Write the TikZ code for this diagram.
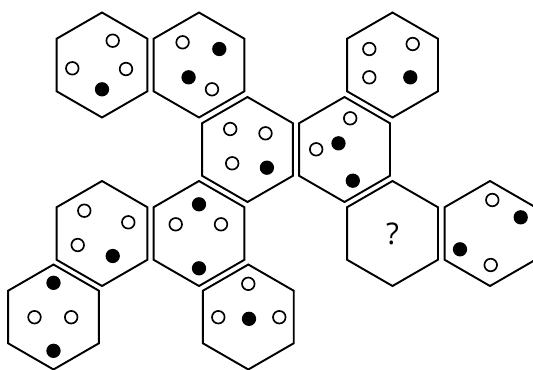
\documentclass[tikz,border=0pt]{standalone}
\usepackage{fontspec}
\setsansfont{Open Sans}
\usepackage{tikz}
\usetikzlibrary{shapes,positioning}

\tikzset{
  hexa/.style={draw, regular polygon, regular polygon sides=6, shape border rotate=30,
    minimum size=2.1cm, inner sep=0pt, line width=1.1pt},
  wdot/.style={draw, circle, fill=white, minimum size=0.252cm, inner sep=0pt, line width=0.95pt},
  bdot/.style={wdot, fill=black}
}

\begin{document}
\begin{tikzpicture}[x=0.02cm, y=-0.02cm]
  \useasboundingbox (0,0) rectangle (533,369);

  % hexagons
  \node[hexa] (topleft) at (102,65) {};
  \node[hexa] (topmid) at (199,65) {};
  \node[hexa] (topright) at (392.5,65) {};
  \node[hexa] (center) at (247.5,149.5) {};
  \node[hexa] (centerright) at (344.5,149.5) {};
  \node[hexa] (lowleft) at (102,233.5) {};
  \node[hexa] (lowmid) at (199,233.5) {};
  \node[hexa, font=\sffamily\fontsize{17}{19}\selectfont] (question) at (392.5,233.5) {?};
  \node[hexa] (lowright) at (490,233.5) {};
  \node[hexa] (bottomleft) at (53.5,317) {};
  \node[hexa] (bottommid) at (248.3,317) {};

  % dots
  \node[wdot] (topleft-a) at ([shift={(10.7,-24.3)}]topleft.center) {};
  \node[wdot] (topleft-b) at ([shift={(-29.7,3.3)}]topleft.center) {};
  \node[wdot] (topleft-c) at ([shift={(24,4)}]topleft.center) {};
  \node[bdot] (topleft-d) at ([shift={(0,24.3)}]topleft.center) {};

  \node[wdot] (topmid-a) at ([shift={(-16.4,-22.7)}]topmid.center) {};
  \node[bdot] (topmid-b) at ([shift={(20.3,-16)}]topmid.center) {};
  \node[bdot] (topmid-c) at ([shift={(-10.4,12.3)}]topmid.center) {};
  \node[wdot] (topmid-d) at ([shift={(13,24.3)}]topmid.center) {};

  \node[wdot] (topright-a) at ([shift={(-23.2,-16)}]topright.center) {};
  \node[wdot] (topright-b) at ([shift={(20.2,-21)}]topright.center) {};
  \node[wdot] (topright-c) at ([shift={(-23.2,12.3)}]topright.center) {};
  \node[bdot] (topright-d) at ([shift={(17.8,12.3)}]topright.center) {};

  \node[wdot] (center-a) at ([shift={(-17.3,-20.5)}]center.center) {};
  \node[wdot] (center-b) at ([shift={(18,-16.2)}]center.center) {};
  \node[wdot] (center-c) at ([shift={(-15.3,13.8)}]center.center) {};
  \node[bdot] (center-d) at ([shift={(19.4,18.2)}]center.center) {};

  \node[wdot] (centerright-a) at ([shift={(5.7,-31.2)}]centerright.center) {};
  \node[bdot] (centerright-b) at ([shift={(-6,-6.2)}]centerright.center) {};
  \node[wdot] (centerright-c) at ([shift={(-28.3,-0.2)}]centerright.center) {};
  \node[bdot] (centerright-d) at ([shift={(8.3,31.2)}]centerright.center) {};

  \node[wdot] (lowleft-a) at ([shift={(-17.7,-22.8)}]lowleft.center) {};
  \node[wdot] (lowleft-b) at ([shift={(26.3,-11.2)}]lowleft.center) {};
  \node[wdot] (lowleft-c) at ([shift={(-24.3,11.5)}]lowleft.center) {};
  \node[bdot] (lowleft-d) at ([shift={(10.7,22.5)}]lowleft.center) {};

  \node[bdot] (lowmid-a) at ([shift={(0,-29.2)}]lowmid.center) {};
  \node[wdot] (lowmid-b) at ([shift={(-23.3,-9.2)}]lowmid.center) {};
  \node[wdot] (lowmid-c) at ([shift={(22,-9.2)}]lowmid.center) {};
  \node[bdot] (lowmid-d) at ([shift={(0,34.8)}]lowmid.center) {};

  \node[wdot] (lowright-a) at ([shift={(2.3,-33.5)}]lowright.center) {};
  \node[bdot] (lowright-b) at ([shift={(30.7,-16.2)}]lowright.center) {};
  \node[bdot] (lowright-c) at ([shift={(-30,15.8)}]lowright.center) {};
  \node[wdot] (lowright-d) at ([shift={(0.7,31.5)}]lowright.center) {};

  \node[bdot] (bottomleft-a) at ([shift={(0,-34.2)}]bottomleft.center) {};
  \node[wdot] (bottomleft-b) at ([shift={(-19,0.2)}]bottomleft.center) {};
  \node[wdot] (bottomleft-c) at ([shift={(17.7,0.2)}]bottomleft.center) {};
  \node[bdot] (bottomleft-d) at ([shift={(0,33.8)}]bottomleft.center) {};

  \node[wdot] (bottommid-a) at ([shift={(0,-33.2)}]bottommid.center) {};
  \node[wdot] (bottommid-b) at ([shift={(-30,0.2)}]bottommid.center) {};
  \node[bdot] (bottommid-c) at ([shift={(0.7,1.8)}]bottommid.center) {};
  \node[wdot] (bottommid-d) at ([shift={(31,0.2)}]bottommid.center) {};
\end{tikzpicture}
\end{document}
